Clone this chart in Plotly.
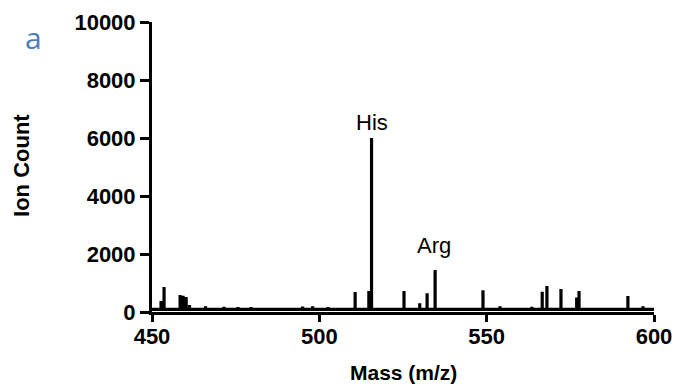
import plotly.graph_objects as go

# Peak list (m/z, ion count)
peak_mz = [452.7, 453.6, 458.4, 459.3, 460.2, 461.2, 466.0, 471.5, 475.7, 479.6,
           495.0, 498.0, 502.6, 510.7, 514.8, 515.6, 525.3, 530.0, 532.2, 534.6,
           548.9, 554.0, 563.5, 566.6, 568.0, 572.2, 576.9, 577.6, 592.2, 596.7]
peak_int = [380, 860, 590, 560, 520, 240, 200, 180, 170, 170,
            190, 200, 170, 690, 720, 6000, 720, 300, 650, 1450,
            750, 200, 180, 700, 900, 790, 500, 720, 550, 200]
baseline = 90
x_range = [450, 600]
x_ticks = [450, 500, 550, 600]
y_range = [0, 10000]
y_ticks = [0, 2000, 4000, 6000, 8000, 10000]
labels = [("His", 515.6, 6550), ("Arg", 534.2, 2310)]

# Build stick spectrum from the peak list
xs, ys = [x_range[0]], [baseline]
for m, h in sorted(zip(peak_mz, peak_int)):
    xs += [m, m, m]
    ys += [baseline, h, baseline]
xs.append(x_range[1])
ys.append(baseline)

fig = go.Figure()
fig.add_trace(go.Scatter(x=xs, y=ys, mode="lines",
                         line=dict(color="black", width=3.2),
                         showlegend=False, hoverinfo="skip"))

tickfont = dict(family="Liberation Sans, Arial, sans-serif", size=22, color="black", weight="bold")
titlefont = dict(family="Liberation Sans, Arial, sans-serif", size=21, color="black", weight="bold")

fig.update_layout(
    width=680, height=392,
    margin=dict(l=144, r=34, t=14, b=88),
    paper_bgcolor="white", plot_bgcolor="white",
    xaxis=dict(range=x_range, tickvals=x_ticks, ticktext=[str(v) for v in x_ticks],
               showline=True, linecolor="black", linewidth=3,
               ticks="outside", ticklen=7, tickwidth=3, tickcolor="black",
               ticklabelstandoff=-4,
               showgrid=False, zeroline=False, tickfont=tickfont, automargin=False),
    yaxis=dict(range=y_range, tickvals=y_ticks, ticktext=[str(v) for v in y_ticks],
               showline=True, linecolor="black", linewidth=3,
               ticks="outside", ticklen=9, tickwidth=3, tickcolor="black",
               showgrid=False, zeroline=False, tickfont=tickfont, automargin=False),
)

for txt, x, y in labels:
    fig.add_annotation(x=x, y=y, xref="x", yref="y", text=txt, showarrow=False,
                       font=dict(family="Liberation Sans, Arial, sans-serif", size=22, color="black"),
                       xanchor="center", yanchor="middle")

fig.add_annotation(x=-0.259, y=0.507, xref="paper", yref="paper", text="Ion Count",
                   textangle=-90, showarrow=False,
                   font=dict(family="Liberation Sans, Arial, sans-serif", size=22, color="black", weight="bold"),
                   xanchor="center", yanchor="middle")
fig.add_annotation(x=0.5, y=-0.207, xref="paper", yref="paper", text="Mass (m/z)",
                   showarrow=False, font=titlefont, xanchor="center", yanchor="middle")
fig.add_annotation(x=-0.237, y=0.948, xref="paper", yref="paper", text="a",
                   showarrow=False,
                   font=dict(family="Open Sans, sans-serif", size=30, color="#4a7ebb"),
                   xanchor="center", yanchor="middle")

fig.write_html("out.html")
